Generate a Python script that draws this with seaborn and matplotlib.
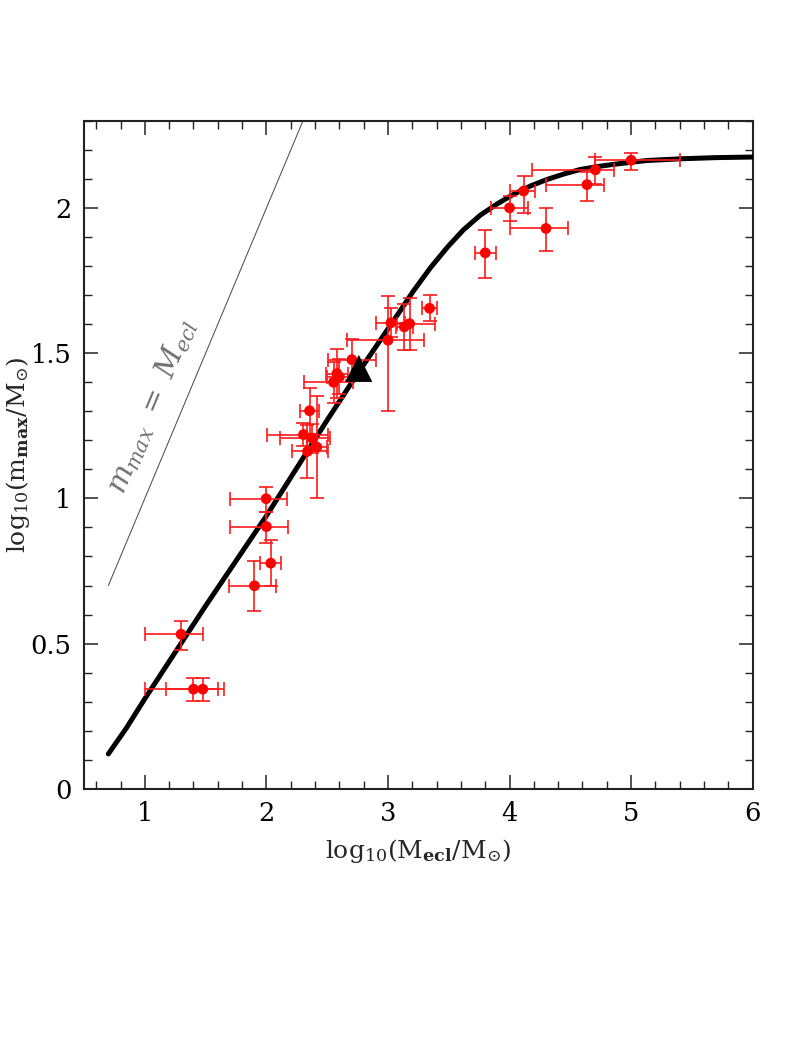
import numpy as np
import matplotlib
matplotlib.use("Agg")
import matplotlib.pyplot as plt
import seaborn as sns
from matplotlib.ticker import MultipleLocator

# ---- data ----
# model curve
curve_x = [0.70, 0.85, 1.00, 1.25, 1.50, 1.75, 2.00, 2.25, 2.50, 2.75, 2.94, 3.05,
           3.21, 3.35, 3.49, 3.62, 3.76, 3.90, 4.03, 4.17, 4.31, 4.45, 4.58,
           4.72, 4.86, 5.00, 5.13, 5.41, 5.70, 6.00]
curve_y = [0.12, 0.21, 0.31, 0.47, 0.63, 0.785, 0.94, 1.105, 1.27, 1.43, 1.547, 1.615,
           1.715, 1.795, 1.866, 1.925, 1.976, 2.015, 2.047, 2.076, 2.099, 2.118, 2.133,
           2.143, 2.151, 2.158, 2.164, 2.170, 2.174, 2.176]

# m_max = M_ecl line
line_x = [0.7, 2.3]
line_y = [0.7, 2.3]

# observed clusters
obs_x = [1.998, 2.000, 2.036, 1.902, 1.298, 1.400, 1.477,
         2.703, 2.580, 2.601, 2.552, 2.355, 2.305, 2.374, 2.415, 2.338,
         3.000, 3.024, 3.134, 3.178, 3.342,
         3.800, 4.000, 4.116, 4.300, 4.637, 4.706, 5.000]
obs_y = [0.999, 0.903, 0.777, 0.699, 0.532, 0.343, 0.343,
         1.478, 1.430, 1.419, 1.400, 1.302, 1.220, 1.208, 1.177, 1.162,
         1.545, 1.605, 1.591, 1.602, 1.655,
         1.846, 2.001, 2.059, 1.930, 2.081, 2.132, 2.165]
xerr_lo = [0.30, 0.30, 0.09, 0.21, 0.30, 0.40, 0.30,
           0.20, 0.09, 0.10, 0.24, 0.075, 0.30, 0.26, 0.085, 0.13,
           0.34, 0.12, 0.07, 0.10, 0.06,
           0.085, 0.155, 0.11, 0.30, 0.34, 0.52, 0.30]
xerr_hi = [0.175, 0.175, 0.08, 0.18, 0.18, 0.20, 0.175,
           0.20, 0.09, 0.10, 0.16, 0.075, 0.20, 0.15, 0.085, 0.17,
           0.30, 0.12, 0.07, 0.21, 0.06,
           0.085, 0.155, 0.09, 0.18, 0.14, 0.15, 0.40]
yerr_lo = [0.045, 0.055, 0.08, 0.086, 0.055, 0.04, 0.04,
           0.07, 0.085, 0.06, 0.07, 0.08, 0.04, 0.05, 0.177, 0.09,
           0.245, 0.05, 0.08, 0.09, 0.045,
           0.088, 0.045, 0.075, 0.078, 0.055, 0.05, 0.035]
yerr_hi = [0.042, 0.052, 0.08, 0.086, 0.047, 0.04, 0.04,
           0.07, 0.085, 0.06, 0.07, 0.08, 0.04, 0.05, 0.177, 0.09,
           0.154, 0.05, 0.08, 0.09, 0.045,
           0.078, 0.040, 0.05, 0.07, 0.045, 0.045, 0.026]

# the black triangle
tri_x = [2.76]
tri_y = [1.448]

x_ticks = [1, 2, 3, 4, 5, 6]
x_ticklabels = ["1", "2", "3", "4", "5", "6"]
y_ticks = [0, 0.5, 1, 1.5, 2]
y_ticklabels = ["0", "0.5", "1", "1.5", "2"]

# ---- styling ----
sns.set_theme(style="ticks")
plt.rcParams["font.family"] = ["DejaVu Serif"]
plt.rcParams["mathtext.fontset"] = "dejavuserif"

fig = plt.figure(figsize=(7.95, 10.59), dpi=100)
ax = fig.add_axes([0.1057, 0.2552, 0.8411, 0.6305])

# one-to-one line
ax.plot(line_x, line_y, color="#444444", lw=0.7, zorder=2)
ax.text(1.057, 1.318, r"$m_{max}\ =\ M_{ecl}$", rotation=67.3,
        rotation_mode="anchor", ha="center", va="center",
        fontsize=21, color="#707070")

# model curve
sns.lineplot(x=curve_x, y=curve_y, sort=False, color="black", lw=3.6,
             ax=ax, zorder=3, legend=False)

# data with error bars
ax.errorbar(obs_x, obs_y,
            xerr=[xerr_lo, xerr_hi], yerr=[yerr_lo, yerr_hi],
            fmt="none", ecolor="#ff1a1a", elinewidth=1.2, capsize=5,
            capthick=1.2, zorder=4)
sns.scatterplot(x=obs_x, y=obs_y, color="#ff0000", s=60, edgecolor="none",
                ax=ax, zorder=5, legend=False)

# triangle
sns.scatterplot(x=tri_x, y=tri_y, marker="^", color="black", s=380,
                edgecolor="none", ax=ax, zorder=6, legend=False)

ax.set_xlim(0.5, 6)
ax.set_ylim(0, 2.3)
ax.set_xticks(x_ticks)
ax.set_xticklabels(x_ticklabels)
ax.set_yticks(y_ticks)
ax.set_yticklabels(y_ticklabels)
ax.xaxis.set_minor_locator(MultipleLocator(0.2))
ax.yaxis.set_minor_locator(MultipleLocator(0.1))
ax.tick_params(which="both", direction="in", top=True, right=True,
               colors="#222222", labelcolor="black", labelsize=18.5)
ax.tick_params(which="major", length=10, width=1.1, pad=9)
ax.tick_params(which="minor", length=5.5, width=1.0)
for sp in ax.spines.values():
    sp.set_linewidth(1.5)
    sp.set_color("#222222")

ax.set_xlabel(r"$\mathrm{log}_{10}(\mathrm{M}_{\mathbf{ecl}}/\mathrm{M}_{\odot})$",
              fontsize=18)
ax.set_ylabel(r"$\mathrm{log}_{10}(\mathrm{m}_{\mathbf{max}}/\mathrm{M}_{\odot})$",
              fontsize=18)
ax.xaxis.set_label_coords(0.5, -0.072)
ax.yaxis.set_label_coords(-0.078, 0.5)

fig.savefig("out.png", dpi=100)
